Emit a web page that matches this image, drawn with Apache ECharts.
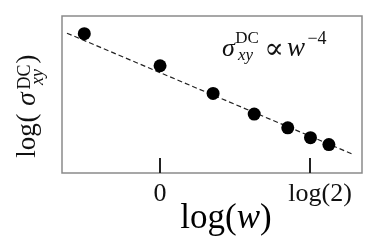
<!DOCTYPE html>
<html>
<head>
<meta charset="utf-8">
<script src="https://cdn.jsdelivr.net/npm/echarts@6/dist/echarts.min.js"></script>
<style>
html,body{margin:0;padding:0;background:#fff;}
#chart{width:382px;height:246px;}
</style>
</head>
<body>
<div id="chart"></div>
<script>
// ---- data ----
const logW = [-0.35, 0.0, 0.245, 0.435, 0.59, 0.695, 0.78];
const logSigma = [6.08, 4.68, 3.47, 2.57, 1.97, 1.54, 1.24];
const fitX = [-0.43, 0.89];
const fitY = [6.10, 0.82];
const xTickValues = [0, Math.log(2)];
const xTickLabels = ['0', 'log(2)'];
const xName = 'log(w)';
const yName = 'log(σ_xy^DC)';
const annotation = 'σ_xy^DC ∝ w^-4';

const SERIF = '"Liberation Serif", "DejaVu Serif", serif';
const chart = echarts.init(document.getElementById('chart'), null, {renderer: 'canvas'});

function txt(text, x, y, size, italic, rot) {
  return {
    type: 'text', x: x, y: y, rotation: rot || 0, silent: true,
    style: {
      text: text, fontFamily: SERIF, fontSize: size,
      fontStyle: italic ? 'italic' : 'normal',
      fill: '#111', align: 'center', verticalAlign: 'middle'
    }
  };
}
const R = Math.PI / 2;

const option = {
  animation: false,
  backgroundColor: '#fff',
  grid: {left: 62, top: 16, width: 300, height: 157, show: true,
         borderColor: '#8a8a8a', borderWidth: 1.5, containLabel: false},
  xAxis: {
    type: 'value', min: -0.453, max: 0.933,
    axisLine: {show: false},
    splitLine: {show: false},
    axisTick: {show: true, inside: true, length: 15, customValues: xTickValues,
               lineStyle: {color: '#222', width: 2}},
    axisLabel: {
      show: true, customValues: xTickValues, margin: 8,
      fontFamily: SERIF, fontSize: 26, color: '#111',
      formatter: function (v) {
        const i = xTickValues.findIndex(t => Math.abs(t - v) < 1e-6);
        const s = i >= 0 ? xTickLabels[i] : '';
        return i === 1 ? '{b|' + s + '}' : s;
      },
      rich: {b: {fontFamily: SERIF, fontSize: 26, color: '#111', padding: [0, 0, 0, 20]}}
    }
  },
  yAxis: {
    type: 'value', min: 0, max: 6.85,
    axisLine: {show: false}, axisTick: {show: false},
    axisLabel: {show: false}, splitLine: {show: false}
  },
  series: [
    {
      type: 'line', data: fitX.map((x, i) => [x, fitY[i]]),
      showSymbol: false, symbol: 'none',
      lineStyle: {color: '#222', width: 1.2, type: [5, 3]},
      z: 1
    },
    {
      type: 'scatter', data: logW.map((x, i) => [x, logSigma[i]]),
      symbol: 'circle', symbolSize: 13,
      itemStyle: {color: '#000', opacity: 1},
      emphasis: {disabled: true},
      z: 2
    }
  ],
  graphic: [
    // x-axis name log(w)
    {
      type: 'text', x: 226, y: 219, silent: true,
      style: {
        text: '{a|log(}{b|w}{a|)}', align: 'center', verticalAlign: 'middle',
        rich: {
          a: {fontFamily: SERIF, fontSize: 35, color: '#111'},
          b: {fontFamily: SERIF, fontSize: 35, fontStyle: 'italic', color: '#111'}
        }
      }
    },
    // annotation  σ_xy^DC ∝ w^-4
    txt('σ', 228.5, 49, 26, true),
    txt('DC', 247, 39, 17, false),
    txt('xy', 245.5, 56, 17, true),
    txt('∝', 274, 50, 29, false),
    txt('w', 296, 49, 27, true),
    txt('−4', 317, 39, 18, false),
    // y-axis name log(σ_xy^DC), rotated
    txt('log', 28, 140.5, 27, false, R),
    txt('(', 28, 118, 27, false, R),
    txt('σ', 28, 99, 27, true, R),
    txt('DC', 25, 77, 18, false, R),
    txt('xy', 38.5, 77, 18, true, R),
    txt(')', 28, 59, 27, false, R)
  ]
};
chart.setOption(option);
</script>
</body>
</html>
